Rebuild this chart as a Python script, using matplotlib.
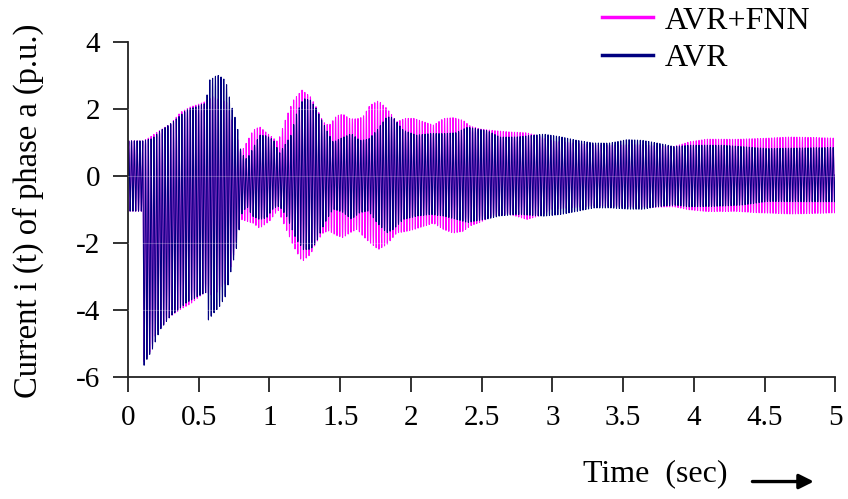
import numpy as np
import matplotlib

matplotlib.use("Agg")
import matplotlib.pyplot as plt

plt.rcParams["font.family"] = ["Liberation Serif", "DejaVu Serif"]
plt.rcParams["axes.unicode_minus"] = False

# envelope of the phase-a current (time in s, current in p.u.)
fnn_t = [0, 0.10, 0.105, 0.15, 0.20, 0.30, 0.37, 0.44, 0.50, 0.545, 0.60, 0.70, 0.75, 0.80,
         0.885, 0.93, 1.00, 1.06, 1.12, 1.17, 1.23, 1.29, 1.33, 1.38, 1.42, 1.475, 1.52,
         1.57, 1.62, 1.66, 1.71, 1.77, 1.83, 1.90, 1.96, 2.02, 2.09, 2.16, 2.23, 2.30,
         2.37, 2.42, 2.49, 2.58, 2.70, 2.82, 2.90, 3.00, 3.30, 3.60, 3.86, 3.97, 4.09,
         4.30, 4.45, 4.68, 5.00]
fnn_hi = [1.05, 1.05, 1.05, 1.15, 1.30, 1.57, 1.92, 2.09, 2.18, 2.25, 2.40, 2.20, 1.50, 0.70,
          1.37, 1.47, 1.22, 1.02, 1.77, 2.27, 2.57, 2.37, 2.07, 1.62, 1.52, 1.82, 1.87,
          1.72, 1.72, 1.77, 2.12, 2.25, 2.02, 1.62, 1.72, 1.72, 1.62, 1.52, 1.72, 1.75,
          1.67, 1.50, 1.42, 1.37, 1.32, 1.29, 1.20, 1.05, 0.93, 0.95, 0.88, 1.02, 1.10,
          1.10, 1.13, 1.17, 1.13]
fnn_lo = [-1.05, -1.05, -5.60, -5.30, -4.70, -4.20, -4.00, -3.85, -3.65, -3.50, -3.60, -3.20,
          -2.30, -1.30, -1.41, -1.56, -1.35, -1.01, -1.61, -2.10, -2.56, -2.35, -2.00,
          -1.71, -1.65, -1.80, -1.86, -1.71, -1.60, -1.80, -2.00, -2.20, -2.05, -1.70,
          -1.66, -1.60, -1.50, -1.41, -1.60, -1.71, -1.66, -1.50, -1.40, -1.20, -1.15,
          -1.30, -1.20, -1.00, -0.90, -0.95, -0.92, -1.01, -1.06, -1.06, -1.11, -1.14,
          -1.10]

avr_t = [0, 0.10, 0.105, 0.13, 0.17, 0.226, 0.30, 0.415, 0.53, 0.555, 0.565, 0.60, 0.63,
         0.65, 0.69, 0.73, 0.77, 0.80, 0.84, 0.88, 0.93, 0.98, 1.03, 1.07, 1.12, 1.15,
         1.19, 1.24, 1.29, 1.33, 1.37, 1.405, 1.45, 1.52, 1.58, 1.64, 1.70, 1.76, 1.83,
         1.875, 1.945, 2.04, 2.14, 2.23, 2.32, 2.40, 2.54, 2.63, 2.75, 2.94, 3.06, 3.17,
         3.29, 3.40, 3.53, 3.64, 3.74, 3.86, 3.97, 4.21, 4.35, 4.52, 5.00]
avr_hi = [1.05, 1.05, 1.05, 1.08, 1.12, 1.35, 1.57, 2.00, 2.18, 2.20, 2.87, 2.95, 3.04,
          3.00, 2.87, 2.12, 1.57, 0.68, 0.50, 0.80, 1.22, 1.20, 1.07, 0.68, 1.00, 1.20,
          1.85, 2.32, 2.27, 2.03, 1.67, 1.37, 1.02, 1.17, 1.27, 1.07, 1.10, 1.37, 1.77,
          1.75, 1.37, 1.22, 1.27, 1.27, 1.30, 1.47, 1.37, 1.17, 1.17, 1.25, 1.17, 1.07,
          0.99, 0.99, 1.10, 1.07, 0.99, 0.88, 0.92, 0.92, 0.88, 0.83, 0.85]
avr_lo = [-1.05, -1.05, -5.73, -5.50, -5.20, -4.60, -4.20, -3.80, -3.55, -3.50, -4.35, -4.15,
          -4.00, -3.90, -3.60, -2.80, -2.10, -1.17, -0.90, -1.20, -1.30, -1.25, -0.95,
          -0.90, -1.20, -1.50, -1.90, -2.20, -2.20, -2.00, -1.60, -1.30, -1.00, -1.10,
          -1.30, -1.10, -1.05, -1.40, -1.70, -1.60, -1.30, -1.20, -1.15, -1.20, -1.30,
          -1.40, -1.30, -1.20, -1.15, -1.20, -1.15, -1.06, -0.96, -0.96, -1.00, -1.00,
          -0.92, -0.87, -0.92, -0.90, -0.87, -0.77, -0.77]

x_ticks = [0, 0.5, 1, 1.5, 2, 2.5, 3, 3.5, 4, 4.5, 5]
y_ticks = [-6, -4, -2, 0, 2, 4]

F_SYS = 50.6   # carrier frequency of the drawn oscillation
FS = 1013.0    # sample rate of the drawn trace


def waveform(t_env, hi, lo):
    t = np.arange(0, 5.0 + 1e-9, 1.0 / FS)
    up = np.interp(t, t_env, hi)
    dn = np.interp(t, t_env, lo)
    return t, (up + dn) / 2 + (up - dn) / 2 * np.sin(2 * np.pi * F_SYS * t)


fig = plt.figure(figsize=(8.48, 4.99), dpi=100)
ax = fig.add_axes([0.151, 0.2445, 0.834, 0.6713])

t1, i1 = waveform(fnn_t, fnn_hi, fnn_lo)
t2, i2 = waveform(avr_t, avr_hi, avr_lo)
ax.plot(t1, i1, color="#ff00ff", lw=0.75, label="AVR+FNN")
ax.plot(t2, i2, color="#000080", lw=0.75, label="AVR")

for yv in [-4, -2, 0, 2]:
    ax.axhline(yv, color="white", lw=0.8, alpha=0.25, zorder=3)

ax.set_xlim(0, 5)
ax.set_ylim(-6, 4)
ax.set_xticks(x_ticks)
ax.set_xticklabels([f"{v:g}" for v in x_ticks])
ax.set_yticks(y_ticks)
ax.spines["top"].set_visible(False)
ax.spines["right"].set_visible(False)
for s in ["left", "bottom"]:
    ax.spines[s].set_linewidth(1.3)
    ax.spines[s].set_color("#222222")
ax.tick_params(axis="both", length=11, width=1.3, color="#222222", labelsize=21)
ax.tick_params(axis="x", pad=9)
ax.tick_params(axis="y", pad=9)

fig.text(0.033, 0.578, "Current i (t) of phase a (p.u.)", rotation=90,
         ha="center", va="center", fontsize=23.5)
fig.text(0.773, 0.05, "Time  (sec)", ha="center", va="center", fontsize=23)
fig.add_artist(matplotlib.patches.FancyArrowPatch(
    (0.884, 0.035), (0.963, 0.035), transform=fig.transFigure,
    arrowstyle="-|>", mutation_scale=22, lw=2.4, color="black"))

leg = fig.legend(loc="upper left", bbox_to_anchor=(0.676, 1.045), frameon=False,
                 fontsize=23, handlelength=1.6, handletextpad=0.35, labelspacing=0.25)
for ln in leg.get_lines():
    ln.set_linewidth(2.5)

fig.savefig("out.png", dpi=100)
